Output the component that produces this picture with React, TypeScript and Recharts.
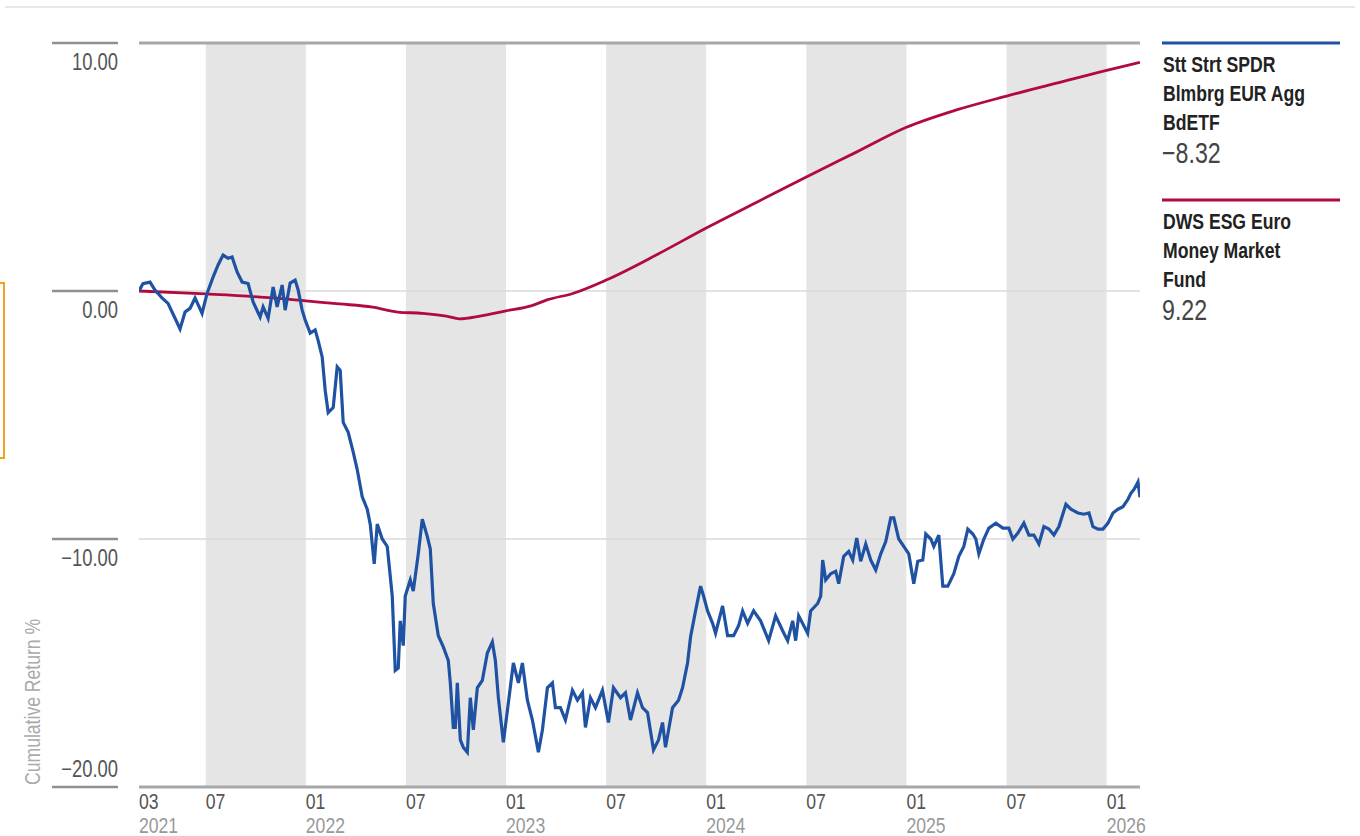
import React from 'react';
import { LineChart, Line, XAxis, YAxis, ReferenceArea, ReferenceLine } from 'recharts';

const FONT = "'Liberation Sans', Arial, sans-serif";
const SQUEEZE = 0.8;
const BLUE = '#1f52a3';
const RED = '#b00a3e';

// months since 2021-03 and cumulative return %
const blueMonths = [
  0, 0.24, 0.66, 0.96, 1.38, 1.74, 2.16, 2.46, 2.76, 3.06, 3.36, 3.78, 4.08, 4.44, 4.74, 5.04, 5.34, 5.58, 5.88,
  6.18, 6.54, 6.84, 7.26, 7.44, 7.74, 8.04, 8.28, 8.58, 8.76, 9.06, 9.36, 9.54, 9.78, 9.96, 10.26, 10.56, 10.74,
  10.98, 11.16, 11.34, 11.64, 11.88, 12.06, 12.24, 12.54, 12.84, 13.08, 13.38, 13.68, 13.86, 14.1, 14.28, 14.58,
  14.88, 15.18, 15.36, 15.54, 15.66, 15.84, 15.96, 16.26, 16.44, 16.74, 16.98, 17.28, 17.46, 17.64, 17.94, 18.24,
  18.54, 18.66, 18.84, 18.96, 19.08, 19.26, 19.44, 19.68, 19.86, 20.04, 20.28, 20.58, 20.88, 21.18, 21.36, 21.54,
  21.84, 22.14, 22.44, 22.74, 22.98, 23.28, 23.58, 23.94, 24.18, 24.48, 24.78, 24.96, 25.26, 25.56, 25.98, 26.28,
  26.58, 26.76, 27.06, 27.36, 27.78, 28.14, 28.44, 28.86, 29.16, 29.46, 29.88, 30.18, 30.48, 30.84, 31.14, 31.38,
  31.56, 31.98, 32.34, 32.58, 32.88, 33.06, 33.36, 33.66, 33.84, 34.08, 34.38, 34.56, 34.98, 35.28, 35.64, 35.94,
  36.18, 36.48, 36.84, 37.26, 37.74, 38.16, 38.58, 38.88, 39.18, 39.36, 39.54, 40.08, 40.26, 40.68, 40.86, 40.98,
  41.16, 41.46, 41.76, 41.94, 42.24, 42.54, 42.78, 43.02, 43.26, 43.56, 43.86, 44.16, 44.46, 44.76, 45.06, 45.24,
  45.54, 45.84, 46.14, 46.44, 46.68, 46.98, 47.16, 47.46, 47.64, 47.94, 48.18, 48.48, 48.84, 49.14, 49.44, 49.68,
  49.98, 50.16, 50.34, 50.64, 50.94, 51.36, 51.78, 52.14, 52.38, 52.68, 53.04, 53.34, 53.64, 53.94, 54.24, 54.54,
  54.84, 55.14, 55.56, 55.86, 56.28, 56.64, 56.94, 57.18, 57.48, 57.78, 58.08, 58.38, 58.68, 58.98, 59.28, 59.46,
  59.64, 59.88, 60,
];
const blueReturns = [
  0, 0.3, 0.36, 0.04, -0.28, -0.5, -1.1, -1.53, -0.85, -0.7, -0.28, -0.9, -0.1, 0.56, 1.05, 1.45, 1.32, 1.37, 0.77,
  0.36, 0.3, -0.44, -1.05, -0.64, -1.1, 0.16, -0.64, 0.24, -0.77, 0.32, 0.44, 0.04, -0.77, -1.17, -1.7, -1.57, -2.0,
  -2.66, -4.0, -4.9, -4.7, -3.06, -3.2, -5.3, -5.7, -6.5, -7.2, -8.3, -8.8, -9.4, -11.0, -9.4, -10.0,
  -10.3, -12.3, -15.3, -15.2, -13.3, -14.3, -12.3, -11.65, -12.1, -10.6, -9.2, -9.9, -10.4, -12.6, -13.9, -14.35,
  -14.9, -15.8, -17.6, -17.6, -15.8, -18.1, -18.4, -18.6, -16.4, -17.7, -16.0, -15.7, -14.6, -14.15, -14.9, -16.4,
  -18.2, -16.6, -15.0, -15.8, -15.0, -16.5, -17.3, -18.6, -17.7, -16.0, -15.8, -16.8, -16.8, -17.3, -16.1, -16.5,
  -16.2, -17.6, -16.4, -16.8, -16.1, -17.4, -16.0, -16.4, -16.2, -17.3, -16.2, -16.8, -17.0, -18.5, -18.1, -17.4,
  -18.4, -16.8, -16.5, -16.0, -15.0, -13.95, -12.9, -11.9, -12.3, -12.9, -13.4, -13.8, -12.7, -13.9, -13.9, -13.5,
  -12.9, -13.4, -12.9, -13.3, -14.1, -13.1, -13.7, -14.1, -13.3, -14.1, -13.1, -13.8, -12.9, -12.6, -12.3, -10.85,
  -11.65, -11.4, -11.3, -11.8, -10.7, -10.5, -10.85, -9.96, -10.9, -10.2, -10.85, -11.25, -10.6, -10.1, -9.15, -9.15,
  -10.0, -10.3, -10.6, -11.8, -10.9, -10.85, -9.8, -10.0, -10.3, -9.84, -11.9, -11.9, -11.4, -10.7, -10.3, -9.6,
  -9.8, -10.0, -10.6, -10.0, -9.56, -9.36, -9.56, -9.56, -10.0, -9.76, -9.36, -9.84, -9.84, -10.2, -9.5, -9.6,
  -9.84, -9.5, -8.6, -8.8, -8.95, -9.0, -8.95, -9.5, -9.6, -9.6, -9.36, -8.95, -8.8, -8.7, -8.4, -8.15,
  -8.0, -7.7, -8.32,
];

const redMonths = [0, 4, 8, 10, 12, 14, 15.5, 17, 18.5, 19.2, 20.5, 22, 23.5, 24.5, 26, 28, 31, 34, 37, 40, 43, 46, 49, 52, 55, 58, 60];
const redReturns = [0, -0.12, -0.28, -0.4, -0.52, -0.65, -0.85, -0.9, -1.02, -1.12, -1.0, -0.8, -0.6, -0.35, -0.1, 0.44, 1.45, 2.54, 3.57, 4.6, 5.6, 6.6, 7.3, 7.86, 8.38, 8.9, 9.22];

const xTicks = [0, 4, 10, 16, 22, 28, 34, 40, 46, 52, 58];
const monthLabels = ['03', '07', '01', '07', '01', '07', '01', '07', '01', '07', '01'];
const yearLabels = ['2021', '', '2022', '', '2023', '', '2024', '', '2025', '', '2026'];
const yTicks = [10, 0, -10, -20];
const shadedBands = [[4, 10], [16, 22], [28, 34], [40, 46], [52, 58]];

const legendNames = [
  ['Stt Strt SPDR', 'Blmbrg EUR Agg', 'BdETF'],
  ['DWS ESG Euro', 'Money Market', 'Fund'],
];
const legendValues = ['\u22128.32', '9.22'];
const legendColors = [BLUE, RED];

const blueData = blueMonths.map((m, i) => ({ month: m, value: blueReturns[i] }));
const redData = redMonths.map((m, i) => ({ month: m, value: redReturns[i] }));

const fmt = (v: number) => (v < 0 ? '\u2212' : '') + Math.abs(v).toFixed(2);

// condensed-looking text: regular font squeezed horizontally
const NarrowText = ({ x, y, size, fill, anchor = 'start', weight = 'normal', rotate = 0, children }: any) => (
  <text
    transform={`translate(${x},${y}) rotate(${rotate}) scale(${SQUEEZE},1)`}
    textAnchor={anchor}
    fill={fill}
    fontSize={size}
    fontWeight={weight}
    fontFamily={FONT}
  >
    {children}
  </text>
);

const YTick = (props: any) => {
  const { y, payload } = props;
  // the lowest label sits above its line, the others below
  const labelY = payload.value === -20 ? y - 10 : y + 27;
  return (
    <g>
      <line x1={52} x2={118} y1={y} y2={y} stroke="#8f8f8f" strokeWidth={2.5} />
      <NarrowText x={118} y={labelY} anchor="end" fill="#555" size={23}>
        {fmt(payload.value)}
      </NarrowText>
    </g>
  );
};

const XTick = (props: any) => {
  const { x, payload } = props;
  const i = xTicks.indexOf(payload.value);
  return (
    <g>
      <NarrowText x={x} y={809} fill="#555" size={22}>
        {monthLabels[i]}
      </NarrowText>
      {yearLabels[i] ? (
        <NarrowText x={x} y={833} fill="#999" size={22}>
          {yearLabels[i]}
        </NarrowText>
      ) : null}
    </g>
  );
};

export default function App() {
  return (
    <div style={{ position: 'absolute', left: 0, top: 0, width: 1360, height: 836, background: '#fff', overflow: 'hidden' }}>
      <LineChart width={1360} height={836} margin={{ top: 43, right: 220, left: 0, bottom: 0 }}>
        {shadedBands.map(([a, b]) => (
          <ReferenceArea key={a} x1={a} x2={b} y1={-20} y2={10} fill="#e5e5e5" fillOpacity={1} stroke="none" />
        ))}
        <ReferenceLine y={0} stroke="#dadada" strokeWidth={1.5} />
        <ReferenceLine y={-10} stroke="#dadada" strokeWidth={1.5} />
        <ReferenceLine y={10} stroke="#a8a8a8" strokeWidth={3} />
        <ReferenceLine y={-20} stroke="#a8a8a8" strokeWidth={3} />
        <XAxis
          dataKey="month"
          type="number"
          domain={[0, 60]}
          ticks={xTicks}
          height={49}
          axisLine={false}
          tickLine={false}
          tick={<XTick />}
          allowDataOverflow
        />
        <YAxis
          type="number"
          domain={[-20, 10]}
          ticks={yTicks}
          width={139}
          axisLine={false}
          tickLine={false}
          tick={<YTick />}
        />
        <Line data={redData} dataKey="value" type="monotone" stroke={RED} strokeWidth={2.8} dot={false} isAnimationActive={false} />
        <Line data={blueData} dataKey="value" type="linear" stroke={BLUE} strokeWidth={3.2} dot={false} isAnimationActive={false} />
      </LineChart>
      <svg width={1360} height={836} style={{ position: 'absolute', left: 0, top: 0, pointerEvents: 'none' }}>
        <line x1={5} x2={1355} y1={7} y2={7} stroke="#e8e8e8" strokeWidth={2} />
        <rect x={-100} y={283} width={104} height={175} fill="none" stroke="#f5a21b" strokeWidth={2} />
        <NarrowText x={40} y={785} rotate={-90} fill="#aaa" size={22}>
          Cumulative Return %
        </NarrowText>
        {legendNames.map((lines, k) => {
          const top = k === 0 ? 43 : 200;
          return (
            <g key={k}>
              <line x1={1162} x2={1340} y1={top} y2={top} stroke={legendColors[k]} strokeWidth={3} />
              {lines.map((t, j) => (
                <NarrowText key={j} x={1163} y={top + 29 + j * 29} fill="#222" size={22} weight="bold">
                  {t}
                </NarrowText>
              ))}
              <NarrowText x={1162} y={top + 120} fill="#444" size={29}>
                {legendValues[k]}
              </NarrowText>
            </g>
          );
        })}
      </svg>
    </div>
  );
}
